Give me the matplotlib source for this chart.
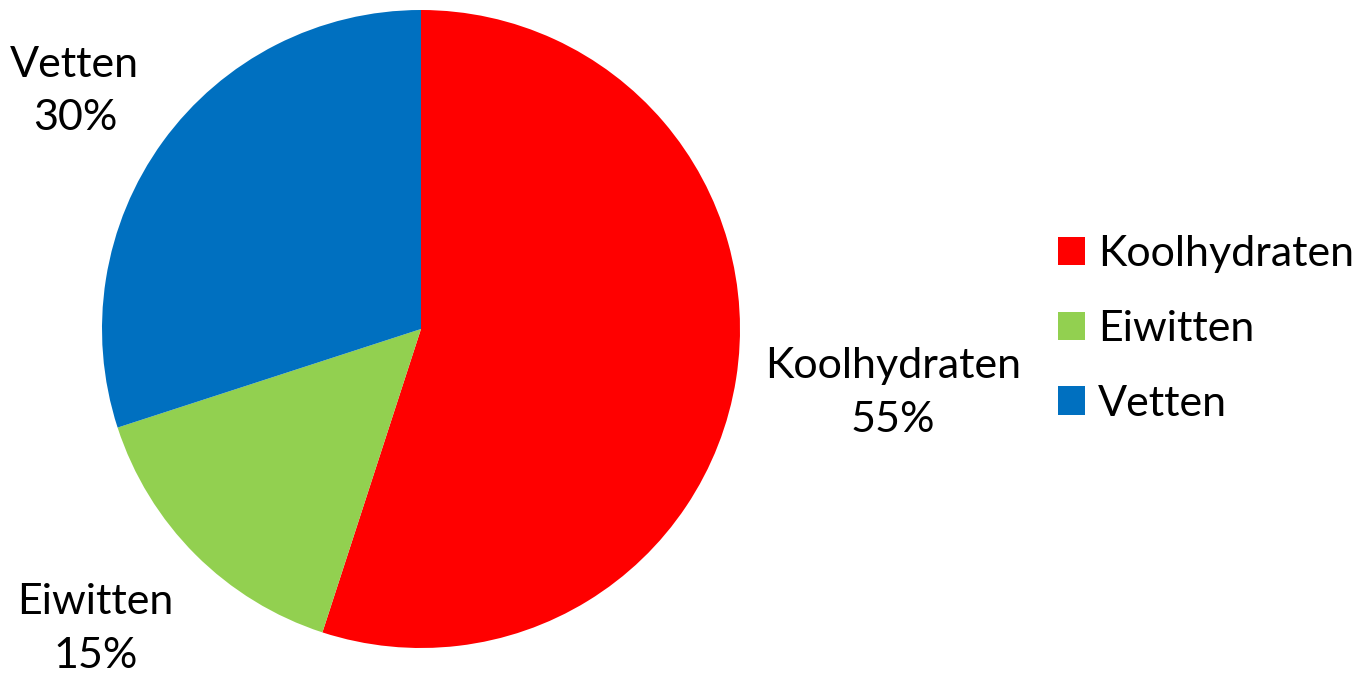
import matplotlib
matplotlib.use("Agg")
import matplotlib.pyplot as plt
from matplotlib.patches import Patch

categories = ["Koolhydraten", "Eiwitten", "Vetten"]
shares = [55, 15, 30]
colors = ["#FF0000", "#92D050", "#0070C0"]

# label positions in axes data units (pie radius = 1)
label_pos = [(1.48, -0.20), (-1.02, -0.94), (-1.085, 0.745)]

plt.rcParams["font.family"] = ["Lato", "DejaVu Sans"]

fig = plt.figure(figsize=(13.71, 6.75), dpi=100)
W, H = 1371, 675
cx, cy, r = 421, 329, 319
ax = fig.add_axes([(cx - r) / W, (H - cy - r) / H, 2 * r / W, 2 * r / H])

wedges, _ = ax.pie(shares, colors=colors, startangle=90, counterclock=False,
                   radius=1, wedgeprops=dict(linewidth=0))
ax.set_xlim(-1, 1)
ax.set_ylim(-1, 1)
ax.set_aspect("equal")

for name, val, (x, y) in zip(categories, shares, label_pos):
    ax.text(x, y, f"{name}\n{val}%", ha="center", va="center", fontsize=31,
            linespacing=1.5, clip_on=False)

handles = [Patch(facecolor=c, edgecolor="none") for c in colors]
fig.legend(handles, categories, loc="center left", bbox_to_anchor=(1058 / W, 1 - 329 / H),
           frameon=False, fontsize=31, handlelength=0.63, handleheight=0.63,
           handletextpad=0.3, labelspacing=0.85, borderpad=0, borderaxespad=0)

fig.savefig("out.png", dpi=100)
